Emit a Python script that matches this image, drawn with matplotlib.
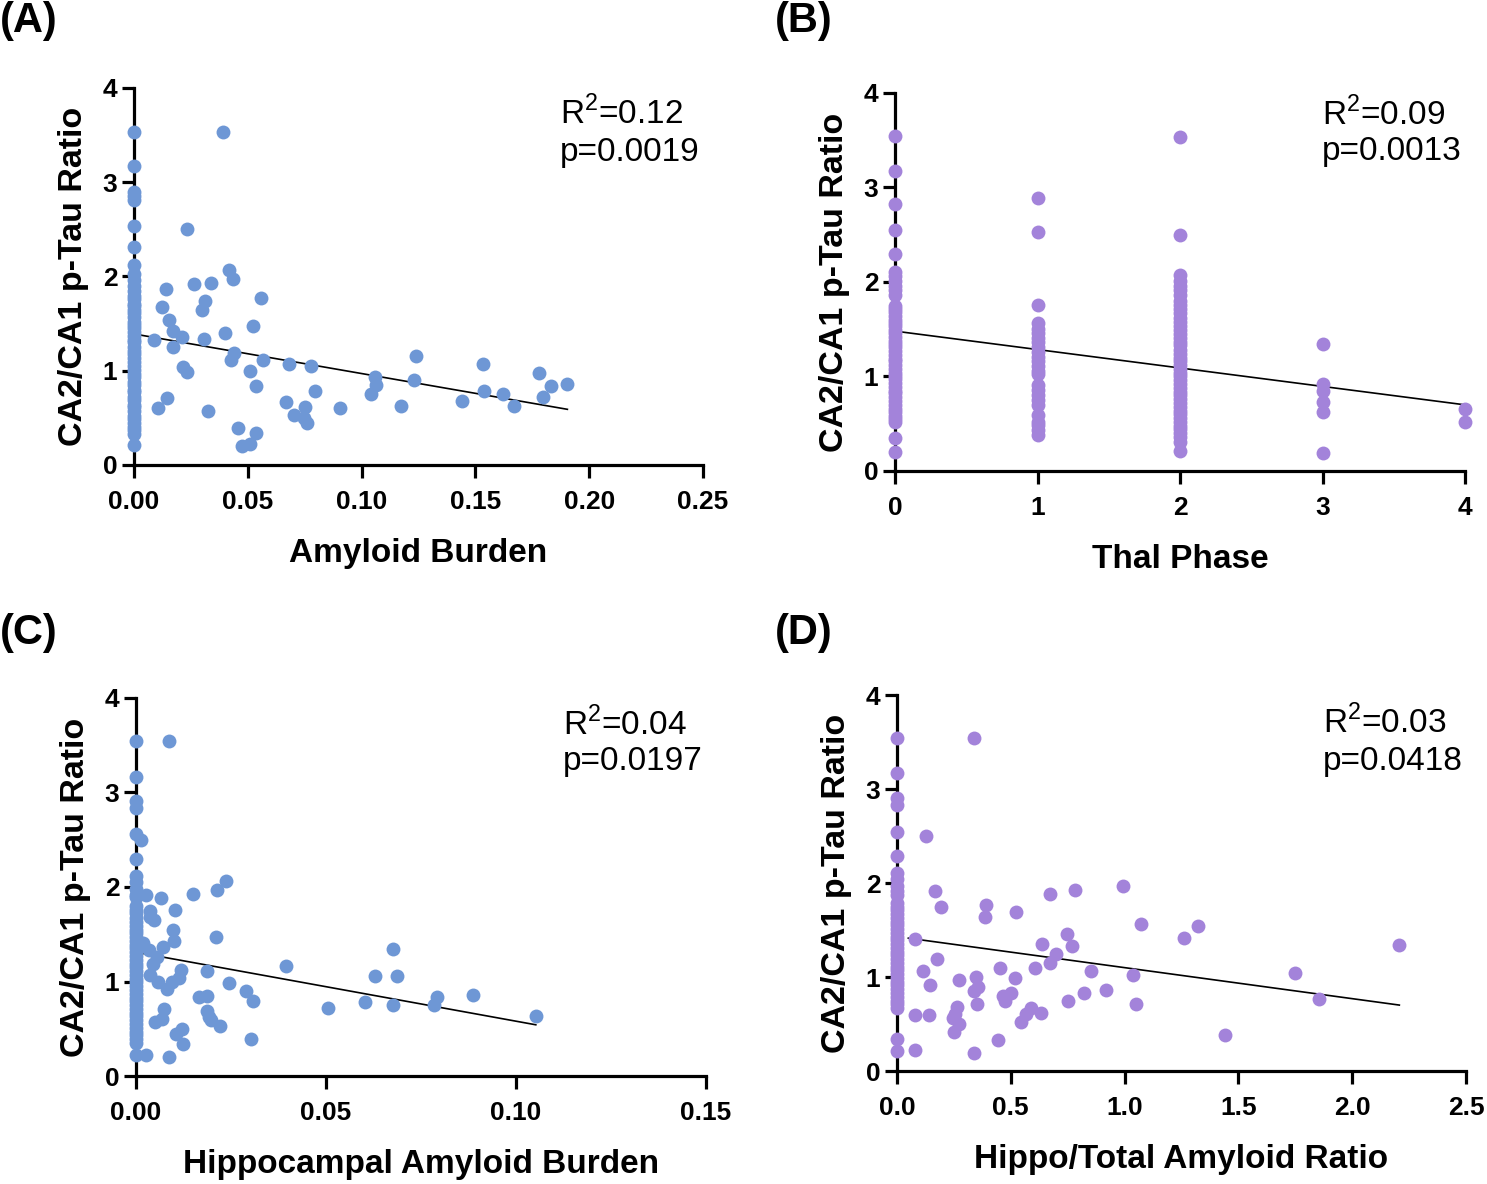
import numpy as np
import matplotlib
matplotlib.use('Agg')
import matplotlib.pyplot as plt

plt.rcParams['font.family'] = ['Liberation Sans', 'DejaVu Sans']
plt.rcParams['mathtext.fontset'] = 'custom'
plt.rcParams['mathtext.rm'] = 'Liberation Sans'

blue = '#6e97d5'
purple = '#a383da'

# ---- shared y label / tick values
y_ticks = [0, 1, 2, 3, 4]

# ---- (A) Amyloid Burden
a_zero_y = [3.53, 3.17, 2.90, 2.85, 2.81, 2.54, 2.31, 2.12, 2.03, 1.96, 1.90, 1.85,
            1.79, 1.76, 1.71, 1.69, 1.64, 1.61, 1.57, 1.52, 1.49, 1.45, 1.41, 1.37,
            1.33, 1.30, 1.25, 1.21, 1.18, 1.13, 1.09, 1.05, 1.01, 0.97, 0.93, 0.88,
            0.85, 0.80, 0.77, 0.72, 0.69, 0.64, 0.61, 0.57, 0.52, 0.49, 0.45, 0.40,
            0.37, 0.33, 0.21]
a_x = [0.0391, 0.0235, 0.0417, 0.0435, 0.0139, 0.0264, 0.0339, 0.0313, 0.0301, 0.0122,
       0.0556, 0.0156, 0.0170, 0.0212, 0.0090, 0.0308, 0.0400, 0.0525, 0.0170, 0.0440,
       0.0426, 0.0565, 0.0683, 0.0779, 0.0217, 0.0231, 0.0508, 0.0535, 0.0796, 0.0143,
       0.0104, 0.0327, 0.0669, 0.0704, 0.0753, 0.0748, 0.0761, 0.0907, 0.0457, 0.0475,
       0.0508, 0.0535, 0.1043, 0.1057, 0.1064, 0.1173, 0.1229, 0.1238, 0.1443, 0.1535,
       0.1539, 0.1620, 0.1669, 0.1778, 0.1796, 0.1831, 0.1904]
a_y = [3.53, 2.50, 2.07, 1.97, 1.87, 1.92, 1.93, 1.74, 1.64, 1.68,
       1.77, 1.54, 1.42, 1.36, 1.33, 1.34, 1.40, 1.47, 1.25, 1.19,
       1.11, 1.11, 1.07, 1.05, 1.04, 0.99, 1.00, 0.84, 0.78, 0.71,
       0.60, 0.57, 0.67, 0.53, 0.61, 0.50, 0.44, 0.60, 0.39, 0.20,
       0.22, 0.34, 0.75, 0.93, 0.85, 0.63, 0.90, 1.16, 0.68, 1.07,
       0.79, 0.75, 0.63, 0.98, 0.72, 0.84, 0.86]
a_fit = (1.39, -4.2)
a_range = (0.002, 0.1904)

# ---- (B) Thal Phase
b_phase0 = [3.54, 3.17, 2.83, 2.55, 2.30, 2.11, 2.06, 2.01, 1.96, 1.91, 1.86, 1.75,
            1.71, 1.68, 1.64, 1.60, 1.57, 1.53, 1.49, 1.46, 1.42, 1.38, 1.34, 1.31,
            1.27, 1.23, 1.19, 1.16, 1.12, 1.08, 1.04, 1.01, 0.97, 0.93, 0.89, 0.85,
            0.82, 0.78, 0.74, 0.70, 0.66, 0.62, 0.58, 0.55, 0.52, 0.35, 0.20]
b_phase1 = [2.89, 2.53, 1.76, 1.57, 1.50, 1.46, 1.41, 1.36, 1.31, 1.26, 1.21, 1.16,
            1.11, 1.06, 1.03, 0.91, 0.86, 0.80, 0.75, 0.70, 0.59, 0.52, 0.49, 0.43, 0.38]
b_phase2 = [3.53, 2.50, 2.07, 2.01, 1.96, 1.91, 1.86, 1.80, 1.76, 1.71, 1.67, 1.62,
            1.58, 1.53, 1.49, 1.45, 1.41, 1.37, 1.33, 1.28, 1.24, 1.20, 1.16, 1.12,
            1.08, 1.04, 1.00, 0.96, 0.92, 0.88, 0.84, 0.80, 0.76, 0.72, 0.68, 0.64,
            0.60, 0.56, 0.52, 0.48, 0.44, 0.40, 0.36, 0.31, 0.21]
b_phase3 = [1.34, 0.92, 0.85, 0.73, 0.62, 0.19]
b_phase4 = [0.66, 0.52]
b_fit = (1.48, -0.195)
b_range = (0.0, 4.0)

# ---- (C) Hippocampal Amyloid Burden
c_zero_y = [3.54, 3.16, 2.91, 2.84, 2.56, 2.30, 2.12, 2.05, 1.98, 1.92, 1.89, 1.80,
            1.76, 1.72, 1.67, 1.63, 1.59, 1.55, 1.51, 1.47, 1.43, 1.39, 1.35, 1.31,
            1.27, 1.23, 1.19, 1.15, 1.11, 1.07, 1.03, 0.99, 0.95, 0.91, 0.87, 0.83,
            0.79, 0.75, 0.71, 0.67, 0.63, 0.59, 0.55, 0.51, 0.47, 0.43, 0.39, 0.35, 0.22]
c_x = [0.0086, 0.0014, 0.0025, 0.0065, 0.0038, 0.0036, 0.0046, 0.0103, 0.0149, 0.0214,
       0.0236, 0.0098, 0.0101, 0.0211, 0.0017, 0.0034, 0.0071, 0.0055, 0.0044, 0.0117,
       0.0113, 0.0036, 0.0057, 0.0081, 0.0095, 0.0187, 0.0244, 0.0394, 0.0165, 0.0187,
       0.0290, 0.0309, 0.0073, 0.0049, 0.0068, 0.0187, 0.0192, 0.0198, 0.0222, 0.0106,
       0.0122, 0.0124, 0.0303, 0.0027, 0.0086, 0.0506, 0.0603, 0.0630, 0.0675, 0.0686,
       0.0675, 0.0785, 0.0793, 0.0887, 0.1052]
c_y = [3.54, 2.50, 1.92, 1.88, 1.75, 1.68, 1.65, 1.76, 1.93, 1.97,
       2.06, 1.54, 1.43, 1.47, 1.41, 1.33, 1.36, 1.26, 1.19, 1.12,
       1.04, 1.07, 0.99, 0.92, 0.99, 1.11, 0.98, 1.16, 0.84, 0.85,
       0.90, 0.79, 0.71, 0.57, 0.60, 0.69, 0.62, 0.59, 0.53, 0.44,
       0.50, 0.34, 0.39, 0.22, 0.20, 0.72, 0.78, 1.06, 1.34, 1.06,
       0.75, 0.75, 0.84, 0.86, 0.63]
c_fit = (1.31, -7.3)
c_range = (0.001, 0.1052)

# ---- (D) Hippo/Total Amyloid Ratio
d_zero_y = [3.54, 3.17, 2.90, 2.83, 2.54, 2.29, 2.11, 2.04, 1.97, 1.91, 1.87, 1.79,
            1.75, 1.71, 1.67, 1.63, 1.59, 1.55, 1.51, 1.47, 1.43, 1.39, 1.35, 1.31,
            1.27, 1.23, 1.19, 1.15, 1.11, 1.07, 1.03, 0.99, 0.95, 0.91, 0.87, 0.83,
            0.79, 0.75, 0.71, 0.67, 0.34, 0.21]
d_x = [0.340, 0.126, 0.169, 0.195, 0.389, 0.386, 0.523, 0.672, 0.782, 0.991,
       1.073, 1.261, 1.321, 2.207, 0.079, 0.174, 0.113, 0.145, 0.274, 0.349,
       0.340, 0.358, 0.351, 0.454, 0.467, 0.476, 0.502, 0.520, 0.605, 0.637,
       0.672, 0.698, 0.747, 0.768, 0.851, 0.750, 0.823, 0.918, 1.038, 1.052,
       1.748, 1.853, 1.439, 0.079, 0.140, 0.079, 0.244, 0.262, 0.253, 0.274,
       0.249, 0.445, 0.340, 0.544, 0.567, 0.588, 0.632]
d_y = [3.54, 2.50, 1.92, 1.74, 1.77, 1.64, 1.69, 1.88, 1.93, 1.97,
       1.56, 1.42, 1.54, 1.34, 1.40, 1.19, 1.06, 0.92, 0.97, 1.00,
       0.85, 0.89, 0.71, 1.10, 0.80, 0.74, 0.83, 0.99, 1.10, 1.35,
       1.15, 1.25, 1.46, 1.33, 1.06, 0.74, 0.83, 0.86, 1.02, 0.71,
       1.04, 0.77, 0.38, 0.60, 0.60, 0.22, 0.56, 0.68, 0.61, 0.50,
       0.42, 0.33, 0.19, 0.52, 0.61, 0.67, 0.62]
d_fit = (1.43, -0.33)
d_range = (0.05, 2.207)

fig = plt.figure(figsize=(14.87, 11.84), dpi=100)


def style_axes(ax, xlim, xticks, xticklabels, xlabel):
    ax.set_xlim(*xlim)
    ax.set_ylim(0, 4)
    ax.set_xticks(xticks)
    ax.set_xticklabels(xticklabels)
    ax.set_yticks(y_ticks)
    for s in ['top', 'right']:
        ax.spines[s].set_visible(False)
    for s in ['left', 'bottom']:
        ax.spines[s].set_linewidth(2.3)
    ax.tick_params(width=2.3, length=9, direction='out')
    ax.tick_params(axis='x', labelsize=19, pad=9)
    ax.tick_params(axis='y', labelsize=19, pad=3)
    for lab in ax.get_xticklabels() + ax.get_yticklabels():
        lab.set_fontweight('bold')
    ax.set_xlabel(xlabel, fontsize=24, fontweight='bold', labelpad=17)
    ax.set_ylabel('CA2/CA1 p-Tau Ratio', fontsize=24.5, fontweight='bold', labelpad=10)


def fit_line(ax, fit, xr):
    xs = np.array(xr)
    ax.plot(xs, fit[0] + fit[1] * xs, color='black', lw=1.2, zorder=2)


def stats(ax, r2, p, y1, y2):
    ax.text(0.749, y1, r'R$^{\mathregular{2}}$=' + r2, transform=ax.transAxes,
            fontsize=24, va='baseline')
    ax.text(0.749, y2, 'p=' + p, transform=ax.transAxes, fontsize=24, va='baseline')


ms = 100

# (A)
ax = fig.add_axes([0.0901, 0.6073, 0.3827, 0.3184])
ax.scatter(np.zeros(len(a_zero_y)), a_zero_y, s=ms, color=blue, lw=0, zorder=3, clip_on=False)
ax.scatter(a_x, a_y, s=ms, color=blue, lw=0, zorder=3, clip_on=False)
fit_line(ax, a_fit, a_range)
style_axes(ax, (0, 0.25), [0, 0.05, 0.10, 0.15, 0.20, 0.25],
           ['0.00', '0.05', '0.10', '0.15', '0.20', '0.25'], 'Amyloid Burden')
stats(ax, '0.12', '0.0019', 0.905, 0.806)

# (B)
ax = fig.add_axes([0.6019, 0.6022, 0.3833, 0.3193])
for ph, vals in enumerate([b_phase0, b_phase1, b_phase2, b_phase3, b_phase4]):
    ax.scatter(np.full(len(vals), ph), vals, s=ms, color=purple, lw=0, zorder=3, clip_on=False)
fit_line(ax, b_fit, b_range)
style_axes(ax, (0, 4), [0, 1, 2, 3, 4], ['0', '1', '2', '3', '4'], 'Thal Phase')
stats(ax, '0.09', '0.0013', 0.915, 0.823)

# (C)
ax = fig.add_axes([0.0915, 0.0912, 0.3833, 0.3193])
ax.scatter(np.zeros(len(c_zero_y)), c_zero_y, s=ms, color=blue, lw=0, zorder=3, clip_on=False)
ax.scatter(c_x, c_y, s=ms, color=blue, lw=0, zorder=3, clip_on=False)
fit_line(ax, c_fit, c_range)
style_axes(ax, (0, 0.15), [0, 0.05, 0.10, 0.15],
           ['0.00', '0.05', '0.10', '0.15'], 'Hippocampal Amyloid Burden')
stats(ax, '0.04', '0.0197', 0.902, 0.81)

# (D)
ax = fig.add_axes([0.6032, 0.0954, 0.3827, 0.3176])
ax.scatter(np.zeros(len(d_zero_y)), d_zero_y, s=ms, color=purple, lw=0, zorder=3, clip_on=False)
ax.scatter(d_x, d_y, s=ms, color=purple, lw=0, zorder=3, clip_on=False)
fit_line(ax, d_fit, d_range)
style_axes(ax, (0, 2.5), [0, 0.5, 1.0, 1.5, 2.0, 2.5],
           ['0.0', '0.5', '1.0', '1.5', '2.0', '2.5'], 'Hippo/Total Amyloid Ratio')
stats(ax, '0.03', '0.0418', 0.899, 0.80)

for lab, x, y in [('(A)', 0.0, 0.999), ('(B)', 0.521, 0.999),
                  ('(C)', 0.0, 0.482), ('(D)', 0.521, 0.482)]:
    fig.text(x, y, lab, fontsize=30, fontweight='bold', va='top', ha='left')

fig.savefig('out.png', dpi=100)
